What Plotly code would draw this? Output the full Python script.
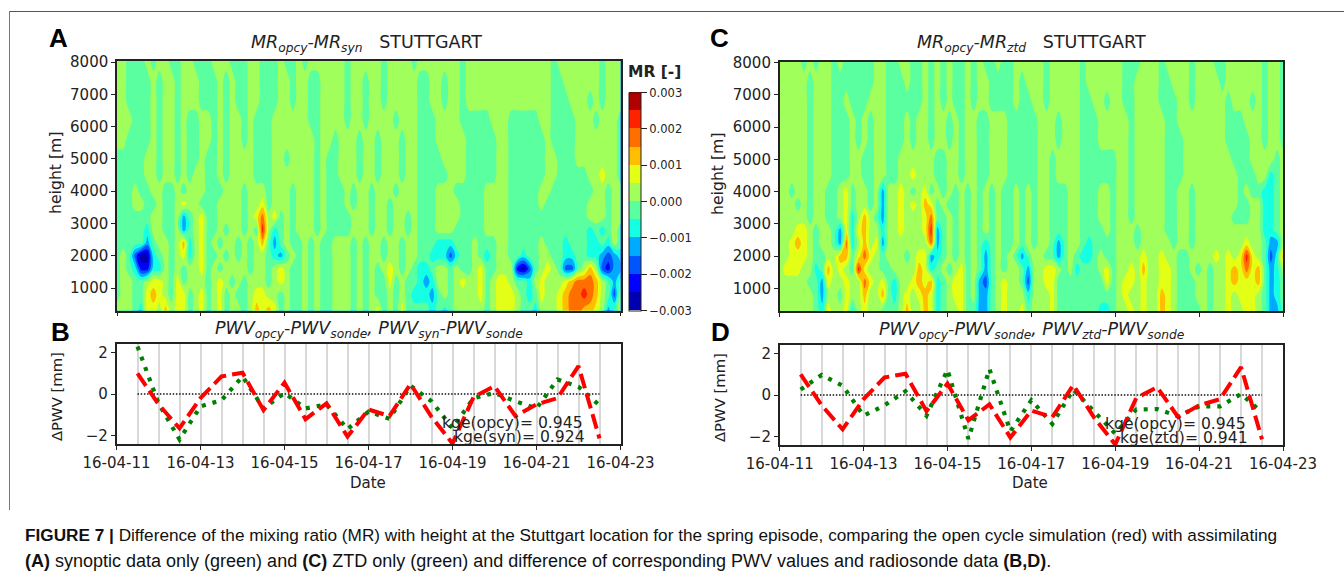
import pandas as pd
import plotly.graph_objects as go

W, H = 1344, 575
FONT = "DejaVu Sans"
CAP = "Liberation Sans"

BAND_CODES = "0123456789AB"
BAND_COLORS = ["#0000b0", "#0000ff", "#0055ff", "#00aaff", "#15ffe2", "#5affa0",
               "#a0ff5a", "#e2ff15", "#ffbe00", "#ff6f00", "#ff2200", "#b00000"]
HEIGHTS = [8040, 7400, 6800, 6200, 5600, 5000, 4500, 4000, 3600, 3200, 2800, 2400, 2000, 1600, 1200, 800, 290]

A_ROWS = [
 "6655565665 5665556665 5566555655 6566666656 6666566665 6666666566 6666666666 6656666666 5666",
 "6655556566 5666555656 5566555665 6655666656 6566566666 5566566566 6666666666 6655666666 5666",
 "6655556566 5666555656 5566555665 6655666656 6566566666 5566566566 6666666666 6655566656 5666",
 "6665556566 5655665656 6565556666 6655666656 6566665666 5556666555 5566655555 6655556665 6665",
 "6655556566 5655665656 6565556666 6665665666 5665666566 5556666655 5556655555 5655556666 6665",
 "5555566566 5655655656 6665556656 6665655666 5665666566 5555666655 5556655555 5665556666 6665",
 "5555566566 5656655656 6665556666 6665655666 5665666566 5555566655 5556655555 5665555566 7665",
 "5556556655 6566655566 6566656665 6665655565 6656665666 5556665555 5666655555 6655555556 6566",
 "5556655655 6766555666 6566756665 6665655565 6656656666 5556666555 5666655555 6555555566 6566",
 "5555556655 6356755666 6567967565 6665655556 6656656656 5556666555 5666655555 5555555566 6566",
 "5555546655 6356755656 6565A64565 6665655556 6656656656 5556665555 5666655555 5555555545 4565",
 "5555535665 6846756566 5656853565 5656556665 6566566566 5554445556 5556655555 6555455544 5465",
 "5652004565 6746755656 5656654356 5656556665 6566566566 5544424556 5456655455 6655445544 3234",
 "5654114465 6566756566 6656656765 5656556665 6565676565 4456656556 7556661025 6765225686 2133",
 "5665567765 7566656765 6566656765 5656556665 6565575655 4346656766 7567765546 7666789998 6535",
 "5665578765 7756756756 5567766565 5656556665 6565565654 4435656666 7567776545 7667899A98 6526",
 "6665477686 7756756756 6568787565 5656556665 6567565755 5545456666 6567776554 6667899887 6356",
]

C_ROWS = [
 "6666565665 6555556655 6655656565 5656556556 6666566666 5666666555 6665666656 6655666666 5665",
 "6666656665 5555556655 5655656565 5656655556 5666566666 5666666556 6665566656 6665666666 5665",
 "6666656665 5655566655 5555656565 5656655556 5566566666 5566566556 6665556656 6666566656 5665",
 "6666656665 5565656655 5656656656 5665566655 5556665666 5556666656 6666556666 6666555666 5665",
 "6666656665 5565656655 5656656656 5665566655 5556665666 5556666656 6666555666 6666555566 5665",
 "6666656665 5566556655 6666665566 5665566655 5556656666 5555556656 6666555666 6666655566 6656",
 "6666656665 5566556655 6676665566 5665566655 5556656666 5555556656 6666555666 6666665556 6456",
 "6656656655 6756656366 7656756565 6565656556 5656655566 5556656656 6666556656 6666665655 4456",
 "6665656655 6756656366 7676875655 6565656556 5656655566 5556656656 6666556656 6666665566 4456",
 "6666656655 6746865366 7666795565 6565656556 5656655566 5556656656 6666556656 6666655566 4456",
 "6667765665 3747866466 76667A3565 6565656556 5656655566 5555656665 6666556656 6666666666 4456",
 "6678765665 3946867366 6666693565 6565456556 5656653566 5455556665 6666656656 6666666766 5336",
 "6677765566 8857976566 6567734565 6565356565 3566553565 4456556666 7667665566 6676767A76 5248",
 "6777664586 765A766556 6668745656 7565356566 5366776564 5556756676 8667765565 6566787978 5346",
 "6666655376 6766976754 6678784567 7563256766 5266775555 5555756776 7667765556 6566787778 5345",
 "6666665366 5766866854 6767874567 7563356766 6466675555 5555556766 7668765556 6566767776 5345",
 "6666665476 6746766555 6866874566 7553356766 7566675555 5554456676 7668765555 6566766776 5335",
]

PWV_TIMES = pd.date_range("2016-04-11 12:00", "2016-04-22 12:00", freq="12h")
PWV_OPCY = [1.0, -0.5, -1.66, -0.2, 0.85, 1.03, -0.78, 0.55, -1.22, -0.45, -2.06, -0.75,
            -1.07, 0.48, -1.1, -2.4, -0.15, 0.38, -1.07, -0.5, -0.2, 1.35, -2.15]
PWV_SYN = [2.3, -0.45, -2.2, -0.6, -0.3, 0.85, -0.7, 0.05, -0.7, -0.5, -1.7, -0.85,
           -1.2, 0.4, -0.35, -1.65, -0.2, 0.05, -0.35, -0.7, 0.7, 0.35, -0.55]
PWV_ZTD = [0.26, 0.97, 0.45, -1.0, -0.5, 0.18, -1.0, 1.22, -2.13, 1.26, -1.76, -0.25,
           -1.4, 0.26, -0.8, -1.87, -0.7, -0.68, -1.03, -0.55, -0.55, 0.05, -0.84]
ZERO_TIMES = ["2016-04-11 12:00", "2016-04-22 12:00"]
ZERO_LINE = [0, 0]

COL_TIMES = pd.date_range("2016-04-11", "2016-04-23", periods=84)


def decode(rows):
    out = []
    for r in rows:
        s = r.replace(" ", "").ljust(84, "6")[:84]
        out.append([-0.00275 + 0.0005 * BAND_CODES.index(c) for c in s])
    return out


def dom_x(a, b):
    return [a / W, b / W]


def dom_y(top, bot):
    return [1 - bot / H, 1 - top / H]


colorscale = []
for i, c in enumerate(BAND_COLORS):
    colorscale += [[i / 12, c], [(i + 1) / 12, c]]

fig = go.Figure()


def add_contour(z, xa, ya, show):
    fig.add_trace(go.Contour(
        x=COL_TIMES, y=HEIGHTS, z=decode(z), xaxis=xa, yaxis=ya,
        zmin=-0.003, zmax=0.003, colorscale=colorscale, showscale=show,
        contours=dict(coloring="fill", start=-0.003, end=0.003, size=0.0005, showlines=False),
        line=dict(width=0),
        colorbar=dict(
            x=628.5 / W, xanchor="left", y=1 - 92.5 / H, yanchor="top",
            lenmode="pixels", len=218, thicknessmode="pixels", thickness=12,
            xpad=0, ypad=0, outlinewidth=1, outlinecolor="#222",
            tickmode="array", tickvals=[-0.003, -0.002, -0.001, 0, 0.001, 0.002, 0.003],
            ticktext=["\u22120.003", "\u22120.002", "\u22120.001", "0.000", "0.001", "0.002", "0.003"],
            ticks="outside", ticklen=6, tickcolor="#222",
            tickfont=dict(family=FONT, size=11.5, color="#222"),
        ) if show else None,
    ))


def add_lines(other, xa, ya):
    fig.add_trace(go.Scatter(x=ZERO_TIMES, y=ZERO_LINE, xaxis=xa, yaxis=ya, mode="lines",
                             line=dict(color="#111", width=1.3, dash="1.5px,1.7px")))
    fig.add_trace(go.Scatter(x=PWV_TIMES, y=other, xaxis=xa, yaxis=ya, mode="lines",
                             line=dict(color="#008000", width=4.2, dash="4px,7px")))
    fig.add_trace(go.Scatter(x=PWV_TIMES, y=PWV_OPCY, xaxis=xa, yaxis=ya, mode="lines",
                             line=dict(color="#ff0000", width=4, dash="15px,6px")))


add_contour(A_ROWS, "x", "y", True)
add_lines(PWV_SYN, "x2", "y2")
add_contour(C_ROWS, "x3", "y3", False)
add_lines(PWV_ZTD, "x4", "y4")

common_x = dict(range=["2016-04-11", "2016-04-23"], type="date", tick0="2016-04-11", dtick=172800000,
                tickformat="%y-%m-%d", ticks="outside", ticklen=4, tickcolor="#222", tickwidth=1.2,
                showline=True, mirror=True, linecolor="#222", linewidth=1.5, zeroline=False,
                tickfont=dict(family=FONT, size=15, color="#222"))
contour_x = dict(common_x, showticklabels=False, showgrid=False)
line_x = dict(common_x, showgrid=True, gridcolor="#d8d8d8", gridwidth=1.6,
              minor=dict(tickmode="linear", tick0="2016-04-11", dtick=43200000, showgrid=True,
                         gridcolor="#d8d8d8", gridwidth=1.6, ticks=""))
common_y = dict(ticks="outside", ticklen=4, tickcolor="#222", tickwidth=1.2, showline=True, mirror=True,
                linecolor="#222", linewidth=1.5, zeroline=False, showgrid=False,
                tickfont=dict(family=FONT, size=15, color="#222"))
contour_y = dict(common_y, range=[303, 8031], tickmode="array",
                 tickvals=[1000, 2000, 3000, 4000, 5000, 6000, 7000, 8000])
line_y = dict(common_y, range=[-2.42, 2.42], tickmode="array", tickvals=[-2, 0, 2],
              ticktext=["\u22122", "0", "2"])

fig.update_layout(
    width=W, height=H, margin=dict(l=0, r=0, t=0, b=0, autoexpand=False),
    paper_bgcolor="white", plot_bgcolor="white",
    showlegend=False,
    xaxis=dict(contour_x, domain=dom_x(117, 620.5), anchor="y"),
    yaxis=dict(contour_y, domain=dom_y(61, 310.5), anchor="x"),
    xaxis2=dict(line_x, domain=dom_x(116.5, 620.5), anchor="y2"),
    yaxis2=dict(line_y, domain=dom_y(344, 444), anchor="x2"),
    xaxis3=dict(contour_x, domain=dom_x(779.7, 1283), anchor="y3"),
    yaxis3=dict(contour_y, domain=dom_y(61.5, 311), anchor="x3"),
    xaxis4=dict(line_x, domain=dom_x(779.7, 1283), anchor="y4"),
    yaxis4=dict(line_y, domain=dom_y(345, 445), anchor="x4"),
)


def label(x, y, text, size=14.5, family=FONT, angle=0, anchor="center", color="#222"):
    fig.add_annotation(x=x / W, y=1 - y / H, xref="paper", yref="paper", text=text, showarrow=False,
                       xanchor=anchor, yanchor="middle", textangle=angle, borderpad=0, borderwidth=0,
                       font=dict(family=family, size=size, color=color))


label(367, 43, "<i>MR<sub>opcy</sub>-MR<sub>syn</sub></i>   STUTTGART", 17.5)
label(1031, 43, "<i>MR<sub>opcy</sub>-MR<sub>ztd</sub></i>   STUTTGART", 17.5)
label(369, 329, "<i>PWV<sub>opcy</sub>-PWV<sub>sonde</sub>, PWV<sub>syn</sub>-PWV<sub>sonde</sub></i>", 17.5)
label(1031, 330, "<i>PWV<sub>opcy</sub>-PWV<sub>sonde</sub>, PWV<sub>ztd</sub>-PWV<sub>sonde</sub></i>", 17.5)
label(59, 38, "<b>A</b>", 26, CAP, color="#000")
label(60, 332, "<b>B</b>", 26, CAP, color="#000")
label(719, 38, "<b>C</b>", 26, CAP, color="#000")
label(720, 332, "<b>D</b>", 26, CAP, color="#000")
label(56, 173, "height [m]", 15.7, angle=-90)
label(718, 174, "height [m]", 15.7, angle=-90)
label(56, 397, "\u0394PWV [mm]", 14.8, angle=-90)
label(719, 398, "\u0394PWV [mm]", 14.8, angle=-90)
label(368, 483, "Date", 15)
label(1030, 483, "Date", 15)
label(654.5, 72, "<b>MR [-]</b>", 15.5)
label(442, 423, "kge(opcy)= 0.945", 15.6, anchor="left")
label(454, 437, "kge(syn)= 0.924", 15.6, anchor="left")
label(1105, 424, "kge(opcy)= 0.945", 15.6, anchor="left")
label(1120, 438, "kge(ztd)= 0.941", 15.6, anchor="left")
label(25, 535, "<b>FIGURE 7 |</b> Difference of the mixing ratio (MR) with height at the Stuttgart location for the spring episode, "
               "comparing the open cycle simulation (red) with assimilating", 17.2, CAP, anchor="left", color="#111")
label(25, 561, "<b>(A)</b> synoptic data only (green) and <b>(C)</b> ZTD only (green) and difference of corresponding PWV values "
               "and radiosonde data <b>(B,D)</b>.", 18, CAP, anchor="left", color="#111")

fig.add_shape(type="line", xref="paper", yref="paper", x0=9 / W, x1=1, y0=1 - 11.5 / H, y1=1 - 11.5 / H,
              line=dict(color="#555", width=1))
fig.add_shape(type="line", xref="paper", yref="paper", x0=9.5 / W, x1=9.5 / W, y0=1 - 11 / H, y1=1 - 510 / H,
              line=dict(color="#777", width=1))

fig.write_html("out.html", config=dict(displayModeBar=False),
               post_script="document.body.style.margin='0';document.body.style.overflow='hidden';")
